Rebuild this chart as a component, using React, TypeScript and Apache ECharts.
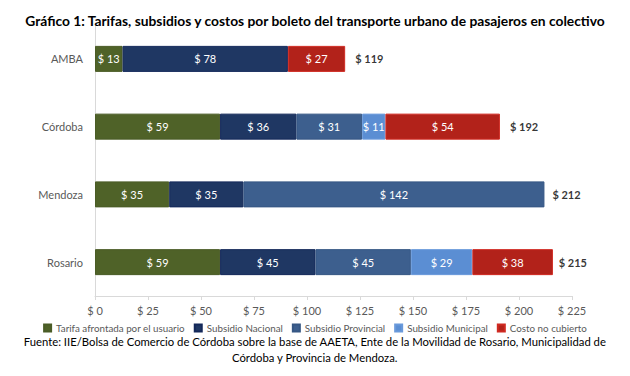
import React, { useEffect, useRef } from "react";
import * as echarts from "echarts";

const categories = ["AMBA", "Córdoba", "Mendoza", "Rosario"];
const seriesNames = [
  "Tarifa afrontada por el usuario",
  "Subsidio Nacional",
  "Subsidio Provincial",
  "Subsidio Municipal",
  "Costo no cubierto",
];
const tarifa = [13, 59, 35, 59];
const subNacional = [78, 36, 35, 45];
const subProvincial = [null, 31, 142, 45];
const subMunicipal = [null, 11, null, 29];
const costoNoCubierto = [27, 54, null, 38];
const totals = [119, 192, 212, 215];
const xTicks = [0, 25, 50, 75, 100, 125, 150, 175, 200, 225];

const colors = ["#4F6228", "#1F3763", "#3D5F8E", "#5B8ED3", "#B2221A"];
const borders = ["#4A5C26", "#14285A", "#365784", "#6A9ADB", "#D02A22"];

const FONT = "Lato";

export default function App() {
  const ref = useRef<HTMLDivElement>(null);
  useEffect(() => {
    document.body.style.margin = "0";
    const chart = echarts.init(ref.current!, null, { renderer: "svg" });
    const values = [tarifa, subNacional, subProvincial, subMunicipal, costoNoCubierto];
    const barSeries = values.map((vals, i) => ({
      name: seriesNames[i],
      type: "bar",
      stack: "total",
      barWidth: 26,
      data: vals,
      itemStyle: { color: colors[i], borderColor: borders[i], borderWidth: 1 },
      label: {
        show: true,
        position: "inside",
        color: "#FFFFFF",
        fontFamily: FONT,
        fontSize: 11,
        formatter: (p: any) => "$ " + p.value,
      },
    }));
    chart.setOption({
      animation: false,
      textStyle: { fontFamily: FONT },
      title: {
        text: "Gráfico 1: Tarifas, subsidios y costos por boleto del transporte urbano de pasajeros en colectivo",
        left: "center",
        top: 8,
        textStyle: { fontFamily: FONT, fontSize: 13.8, fontWeight: "bold", color: "#000000" },
      },
      grid: { left: 95, right: 58, top: 25, bottom: 80 },
      legend: {
        data: seriesNames,
        top: 318,
        left: "center",
        icon: "rect",
        itemWidth: 7,
        itemHeight: 7,
        itemGap: 9,
        textStyle: { fontFamily: FONT, fontSize: 9.8, color: "#595959" },
      },
      xAxis: {
        type: "value",
        min: 0,
        max: 225,
        interval: 25,
        axisLine: { show: true, lineStyle: { color: "#D9D9D9" } },
        axisTick: { show: true, length: 4, lineStyle: { color: "#D9D9D9" } },
        splitLine: { show: false },
        axisLabel: {
          color: "#595959",
          fontFamily: FONT,
          fontSize: 11,
          margin: 9,
          formatter: (v: number) => (xTicks.includes(v) ? "$ " + v : ""),
        },
      },
      yAxis: {
        type: "category",
        data: categories,
        inverse: true,
        axisLine: { show: true, lineStyle: { color: "#D9D9D9" } },
        axisTick: { show: false },
        axisLabel: { color: "#595959", fontFamily: FONT, fontSize: 11, margin: 12 },
      },
      series: [
        ...barSeries,
        {
          type: "scatter",
          symbolSize: 0,
          silent: true,
          data: totals.map((t, i) => [t, i]),
          label: {
            show: true,
            position: "right",
            distance: 8,
            color: "#000000",
            fontFamily: FONT,
            fontWeight: "bold",
            fontSize: 11,
            formatter: (p: any) => "$ " + p.value[0],
          },
        },
      ],
      graphic: [
        {
          type: "text",
          left: "center",
          top: 336,
          style: {
            text: "Fuente: IIE/Bolsa de Comercio de Córdoba sobre la base de AAETA, Ente de la Movilidad de Rosario, Municipalidad de",
            fontFamily: FONT,
            fontSize: 11.3,
            fill: "#000000",
          },
        },
        {
          type: "text",
          left: "center",
          top: 352,
          style: {
            text: "Córdoba y Provincia de Mendoza.",
            fontFamily: FONT,
            fontSize: 11.3,
            fill: "#000000",
          },
        },
      ],
    });
    return () => chart.dispose();
  }, []);
  return <div ref={ref} style={{ width: 630, height: 376 }} />;
}
